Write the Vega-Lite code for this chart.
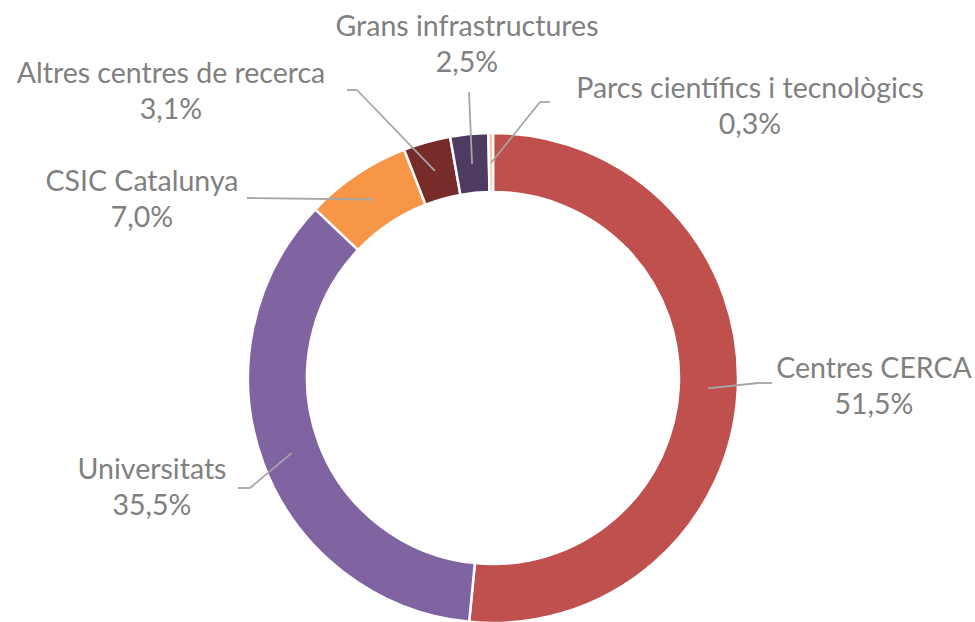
{
  "$schema": "https://vega.github.io/schema/vega-lite/v6.json",
  "width": 964,
  "height": 488,
  "autosize": {"type": "none"},
  "padding": {"left": 11, "top": 134, "right": 0, "bottom": 0},
  "background": "white",
  "config": {"view": {"stroke": null}},
  "data": {
    "values": [
      {"cat": "Centres CERCA", "pct": 51.5},
      {"cat": "Universitats", "pct": 35.5},
      {"cat": "CSIC Catalunya", "pct": 7.0},
      {"cat": "Altres centres de recerca", "pct": 3.1},
      {"cat": "Grans infrastructures", "pct": 2.5},
      {"cat": "Parcs científics i tecnològics", "pct": 0.3}
    ]
  },
  "transform": [
    {"window": [{"op": "row_number", "as": "idx"}]},
    {"joinaggregate": [{"op": "sum", "field": "pct", "as": "total"}]},
    {"window": [{"op": "sum", "field": "pct", "as": "cum"}], "sort": [{"field": "idx"}], "frame": [null, 0]},
    {"calculate": "2*PI*(datum.cum - datum.pct/2)/datum.total", "as": "mid"},
    {"calculate": "215*sin(datum.mid)", "as": "x0"},
    {"calculate": "215*cos(datum.mid)", "as": "y0"},
    {"calculate": "replace(format(datum.pct, '.1f'), '.', ',') + '%'", "as": "lbl"},
    {"calculate": "[265, -243, -246, -136, -24, 47][datum.idx-1]", "as": "ex"},
    {"calculate": "[-5, -110, 180, 288, 286, 276][datum.idx-1]", "as": "ey"},
    {"calculate": "[279, -255, -246, -146, -24, 57][datum.idx-1]", "as": "tx"},
    {"calculate": "[381, -341, -351, -322, -26, 257][datum.idx-1]", "as": "lx"},
    {"calculate": "[0, -101, 187, 295, 342, 280][datum.idx-1]", "as": "ny"},
    {"calculate": "datum.ny - 36", "as": "py"}
  ],
  "layer": [
    {
      "mark": {"type": "arc", "outerRadius": 245, "innerRadius": 186, "stroke": "white", "strokeWidth": 2.5},
      "encoding": {
        "theta": {"field": "pct", "type": "quantitative", "stack": true},
        "order": {"field": "idx", "type": "quantitative"},
        "color": {
          "field": "cat",
          "type": "nominal",
          "scale": {
            "domain": ["Centres CERCA", "Universitats", "CSIC Catalunya", "Altres centres de recerca", "Grans infrastructures", "Parcs científics i tecnològics"],
            "range": ["#C0504D", "#8064A2", "#F79646", "#772C2A", "#4D3B62", "#FAC090"]
          },
          "legend": null
        }
      }
    },
    {
      "mark": {"type": "rule", "color": "#A6A6A6", "strokeWidth": 1.8},
      "encoding": {
        "x": {"field": "x0", "type": "quantitative", "scale": {"domain": [-482, 482], "nice": false, "zero": false}, "axis": null},
        "y": {"field": "y0", "type": "quantitative", "scale": {"domain": [-244, 244], "nice": false, "zero": false}, "axis": null},
        "x2": {"field": "ex"},
        "y2": {"field": "ey"}
      }
    },
    {
      "mark": {"type": "rule", "color": "#A6A6A6", "strokeWidth": 1.8},
      "encoding": {
        "x": {"field": "ex", "type": "quantitative", "scale": {"domain": [-482, 482], "nice": false, "zero": false}, "axis": null},
        "y": {"field": "ey", "type": "quantitative", "scale": {"domain": [-244, 244], "nice": false, "zero": false}, "axis": null},
        "x2": {"field": "tx"},
        "y2": {"field": "ey"}
      }
    },
    {
      "mark": {"type": "text", "font": "Lato", "fontSize": 28.5, "color": "#808080", "align": "center", "baseline": "alphabetic"},
      "encoding": {
        "x": {"field": "lx", "type": "quantitative", "scale": {"domain": [-482, 482], "nice": false, "zero": false}, "axis": null},
        "y": {"field": "ny", "type": "quantitative", "scale": {"domain": [-244, 244], "nice": false, "zero": false}, "axis": null},
        "text": {"field": "cat"}
      }
    },
    {
      "mark": {"type": "text", "font": "Lato", "fontSize": 28.5, "color": "#808080", "align": "center", "baseline": "alphabetic"},
      "encoding": {
        "x": {"field": "lx", "type": "quantitative", "scale": {"domain": [-482, 482], "nice": false, "zero": false}, "axis": null},
        "y": {"field": "py", "type": "quantitative", "scale": {"domain": [-244, 244], "nice": false, "zero": false}, "axis": null},
        "text": {"field": "lbl"}
      }
    }
  ]
}
